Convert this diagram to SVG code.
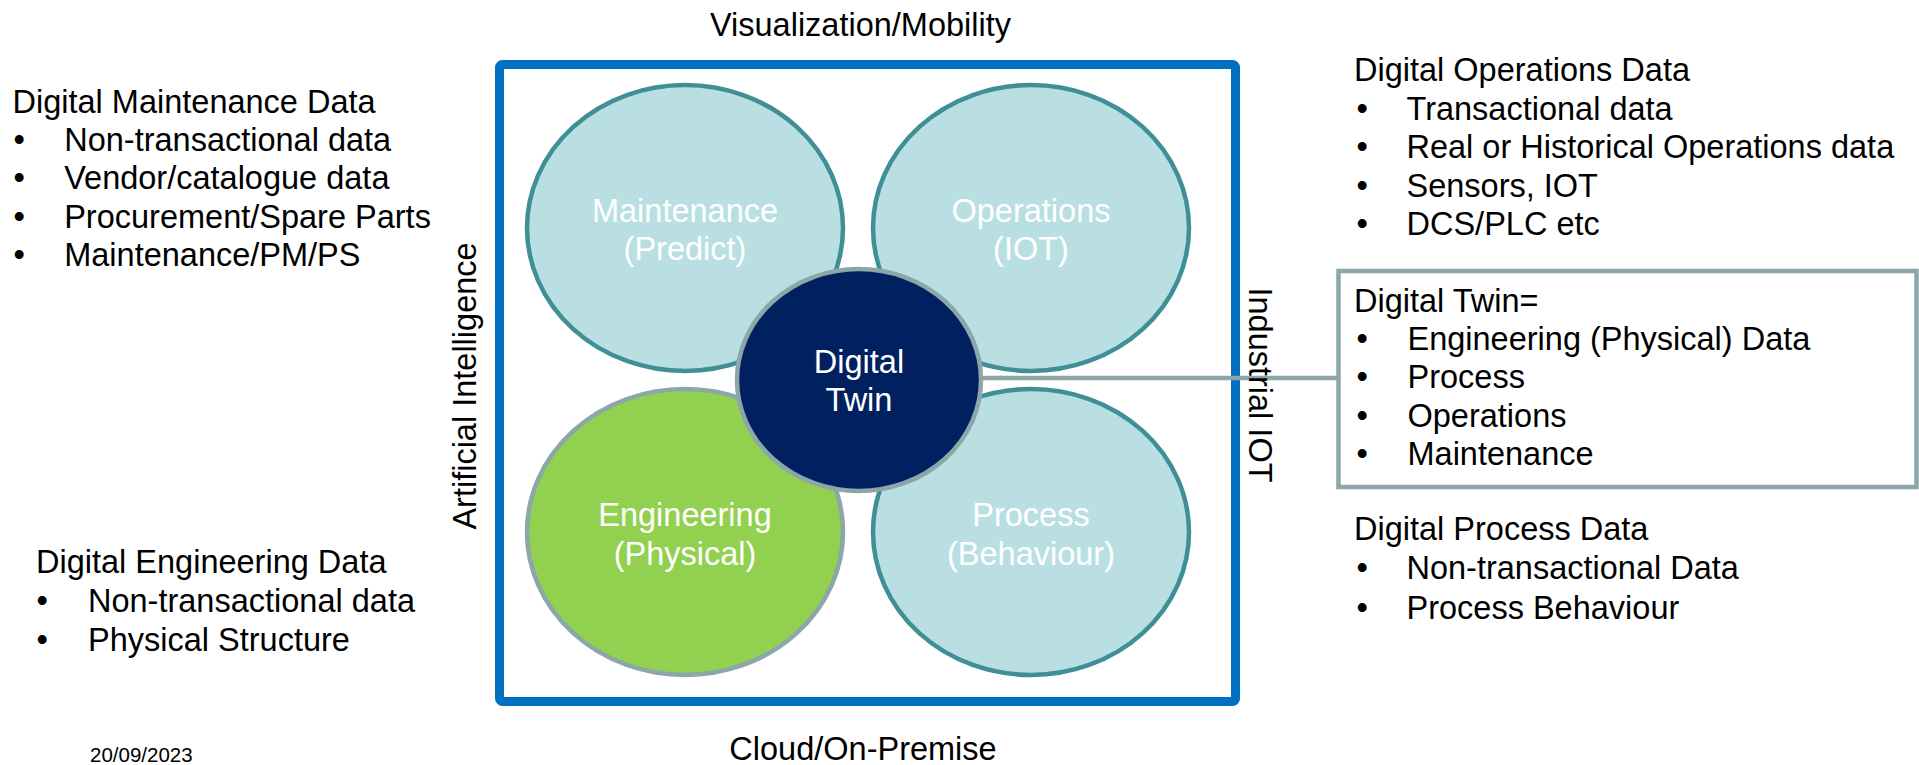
<svg xmlns="http://www.w3.org/2000/svg" width="1919" height="765" viewBox="0 0 1919 765">
  <style>
    text { font-family: "Liberation Sans", Arial, sans-serif; font-size: 32.5px; fill: #000000; }
    .lbl { fill: #FFFFFF; text-anchor: middle; }
    .mid { text-anchor: middle; }
    .soft { fill: #B9DFE3; stroke: #3F8F95; stroke-width: 4.5; }
    .grey { stroke: #8CA6A9; stroke-width: 4.5; }
  </style>
  <rect width="1919" height="765" fill="#FFFFFF"/>

  <g id="frame">
    <rect x="499.5" y="64.5" width="736" height="637" rx="3" fill="none" stroke="#0070C0" stroke-width="9"/>
  </g>

  <g id="maintenance">
    <ellipse class="soft" cx="685" cy="228" rx="158" ry="143"/>
    <text class="lbl" x="685" y="221.5">Maintenance</text>
    <text class="lbl" x="685" y="260">(Predict)</text>
  </g>
  <g id="operations">
    <ellipse class="soft" cx="1031" cy="228" rx="158" ry="143"/>
    <text class="lbl" x="1031" y="221.5">Operations</text>
    <text class="lbl" x="1031" y="260">(IOT)</text>
  </g>
  <g id="engineering">
    <ellipse class="grey" fill="#92D050" cx="685" cy="532" rx="158" ry="143"/>
    <text class="lbl" x="685" y="526">Engineering</text>
    <text class="lbl" x="685" y="564.5">(Physical)</text>
  </g>
  <g id="process">
    <ellipse class="soft" cx="1031" cy="532" rx="158" ry="143"/>
    <text class="lbl" x="1031" y="526">Process</text>
    <text class="lbl" x="1031" y="564.5">(Behaviour)</text>
  </g>

  <g id="connectors">
    <line class="grey" x1="983" y1="378" x2="1338.5" y2="378"/>
  </g>

  <g id="digital-twin">
    <ellipse class="grey" fill="#002060" cx="859" cy="380" rx="122" ry="111"/>
    <text class="lbl" x="859" y="372.7">Digital</text>
    <text class="lbl" x="859" y="411">Twin</text>
  </g>

  <g id="axis-labels">
    <text class="mid" x="860.5" y="36">Visualization/Mobility</text>
    <text class="mid" x="863" y="760">Cloud/On-Premise</text>
    <text class="mid" transform="translate(475.5 386) rotate(-90)">Artificial Intelligence</text>
    <text class="mid" transform="translate(1249 385) rotate(90)">Industrial IOT</text>
  </g>

  <g id="digital-maintenance-data">
    <text x="12.5" y="112.7">Digital Maintenance Data</text>
    <text x="13.4" y="151">•</text><text x="64.2" y="151">Non-transactional data</text>
    <text x="13.4" y="189.3">•</text><text x="64.2" y="189.3">Vendor/catalogue data</text>
    <text x="13.4" y="227.6">•</text><text x="64.2" y="227.6">Procurement/Spare Parts</text>
    <text x="13.4" y="265.9">•</text><text x="64.2" y="265.9">Maintenance/PM/PS</text>
  </g>

  <g id="digital-engineering-data">
    <text x="36" y="572.7">Digital Engineering Data</text>
    <text x="36.5" y="611.7">•</text><text x="88" y="611.7">Non-transactional data</text>
    <text x="36.5" y="651">•</text><text x="88" y="651">Physical Structure</text>
  </g>

  <g id="digital-operations-data">
    <text x="1354" y="81">Digital Operations Data</text>
    <text x="1356.5" y="119.6">•</text><text x="1406.5" y="119.6">Transactional data</text>
    <text x="1356.5" y="158.2">•</text><text x="1406.5" y="158.2">Real or Historical Operations data</text>
    <text x="1356.5" y="196.8">•</text><text x="1406.5" y="196.8">Sensors, IOT</text>
    <text x="1356.5" y="235.4">•</text><text x="1406.5" y="235.4">DCS/PLC etc</text>
  </g>

  <g id="digital-twin-box">
    <rect class="grey" fill="none" x="1338.5" y="271" width="578" height="216"/>
    <text x="1354" y="311.7">Digital Twin=</text>
    <text x="1356.5" y="350">•</text><text x="1407.5" y="350">Engineering (Physical) Data</text>
    <text x="1356.5" y="388.3">•</text><text x="1407.5" y="388.3">Process</text>
    <text x="1356.5" y="426.6">•</text><text x="1407.5" y="426.6">Operations</text>
    <text x="1356.5" y="464.9">•</text><text x="1407.5" y="464.9">Maintenance</text>
  </g>

  <g id="digital-process-data">
    <text x="1354" y="540.4">Digital Process Data</text>
    <text x="1356.5" y="579">•</text><text x="1406.5" y="579">Non-transactional Data</text>
    <text x="1356.5" y="618.5">•</text><text x="1406.5" y="618.5">Process Behaviour</text>
  </g>

  <g id="footer">
    <text x="90" y="762" style="font-size:20.5px">20/09/2023</text>
  </g>
</svg>
